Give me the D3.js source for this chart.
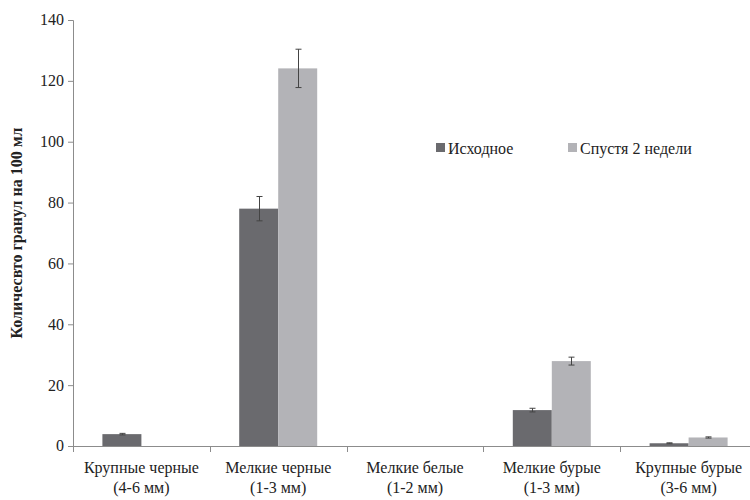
<!DOCTYPE html>
<html>
<head>
<meta charset="utf-8">
<script src="https://cdn.jsdelivr.net/npm/d3@7"></script>
<style>
  body { margin: 0; background: #fff; }
  svg { display: block; }
</style>
</head>
<body>
<svg id="chart" width="750" height="500"></svg>
<script>
// Granule counts per 100 ml, by granule type
const categories = [
  ["Крупные черные", "(4-6 мм)"],
  ["Мелкие черные", "(1-3 мм)"],
  ["Мелкие белые", "(1-2 мм)"],
  ["Мелкие бурые", "(1-3 мм)"],
  ["Крупные бурые", "(3-6 мм)"]
];
const seriesNames = ["Исходное", "Спустя 2 недели"];
const initialValues = [3.9, 78, 0, 11.8, 0.9];
const initialErrors = [0.25, 4, 0, 0.6, 0.15];
const afterValues = [0, 124.1, 0, 27.9, 2.8];
const afterErrors = [0, 6.3, 0, 1.3, 0.2];
const yTicks = [0, 20, 40, 60, 80, 100, 120, 140];
const yLabel = "Количесвто гранул на 100 мл";

const FONT = '"Liberation Serif"';
const colors = ["#6a6a6e", "#b3b3b7"];
const svg = d3.select("#chart");

// Text is set at double size and scaled down by half, which keeps the serif outlines crisp
function label(parent, px, py, size, str, opts = {}) {
  const t = parent.append("text")
    .attr("transform", `translate(${px},${py}) ${opts.rotate ? "rotate(-90) " : ""}scale(0.5)`)
    .attr("text-anchor", opts.anchor || "start")
    .attr("dy", opts.dy || null)
    .style("font-family", FONT)
    .attr("font-size", size * 2)
    .attr("font-weight", opts.bold ? "bold" : null)
    .attr("fill", "#222")
    .text(str);
  return t;
}

const plotLeft = 73, plotRight = 757, plotTop = 20, plotBottom = 446;

const x = d3.scaleBand().domain(d3.range(categories.length)).range([plotLeft, plotRight]);
const y = d3.scaleLinear().domain([0, 140]).range([plotBottom, plotTop]);

const barW = 39;
const series = [
  { values: initialValues, errors: initialErrors },
  { values: afterValues, errors: afterErrors }
];

// Bars
series.forEach((s, si) => {
  const offset = (x.bandwidth() - 2 * barW) / 2 + si * barW;
  svg.append("g").selectAll("rect")
    .data(s.values)
    .join("rect")
    .attr("x", (d, i) => x(i) + offset)
    .attr("y", d => y(d))
    .attr("width", barW)
    .attr("height", d => plotBottom - y(d))
    .attr("fill", colors[si]);
});

// Error bars
series.forEach((s, si) => {
  const offset = (x.bandwidth() - 2 * barW) / 2 + si * barW + barW / 2;
  const g = svg.append("g").attr("stroke", "#444").attr("stroke-width", 1);
  s.values.forEach((v, i) => {
    const e = s.errors[i];
    if (v <= 0) return;
    const cx = Math.round(x(i) + offset) + 0.5;
    g.append("line").attr("x1", cx).attr("x2", cx).attr("y1", y(v + e)).attr("y2", y(v - e));
    g.append("line").attr("x1", cx - 3).attr("x2", cx + 3).attr("y1", y(v + e)).attr("y2", y(v + e));
    g.append("line").attr("x1", cx - 3).attr("x2", cx + 3).attr("y1", y(v - e)).attr("y2", y(v - e));
  });
});

// Y axis: line and tick marks from d3, labels drawn separately
const yAxis = svg.append("g")
  .attr("transform", `translate(${plotLeft},0)`)
  .call(d3.axisLeft(y).tickValues(yTicks).tickSize(5).tickFormat(""));
yAxis.select(".domain").attr("stroke", "#8c8c8c");
yAxis.selectAll(".tick line").attr("stroke", "#8c8c8c");
const yLabels = svg.append("g");
yTicks.forEach(t => label(yLabels, plotLeft - 9, y(t), 16, String(t), { anchor: "end", dy: "0.34em" }));

// X axis line with ticks at category boundaries
const xg = svg.append("g");
xg.append("line").attr("x1", plotLeft).attr("x2", plotRight).attr("y1", plotBottom + 0.5).attr("y2", plotBottom + 0.5)
  .attr("stroke", "#8c8c8c");
xg.selectAll(".bound")
  .data(d3.range(categories.length + 1))
  .join("line")
  .attr("x1", i => Math.round(plotLeft + i * x.step()) + 0.5)
  .attr("x2", i => Math.round(plotLeft + i * x.step()) + 0.5)
  .attr("y1", plotBottom)
  .attr("y2", plotBottom + 6)
  .attr("stroke", "#8c8c8c");

// Category labels
const catG = svg.append("g");
categories.forEach((c, i) => {
  const cx = x(i) + x.bandwidth() / 2;
  label(catG, cx, 473, 16, c[0], { anchor: "middle" });
  label(catG, cx, 493, 16, c[1], { anchor: "middle" });
});

// Y axis title
label(svg, 22, (plotTop + plotBottom) / 2, 16, yLabel, { anchor: "middle", rotate: true, bold: true });

// Legend
const legendX = [436, 568];
seriesNames.forEach((n, i) => {
  svg.append("rect").attr("x", legendX[i]).attr("y", 143).attr("width", 9).attr("height", 9).attr("fill", colors[i]);
  label(svg, legendX[i] + 12, 154, 16, n);
});
</script>
</body>
</html>
